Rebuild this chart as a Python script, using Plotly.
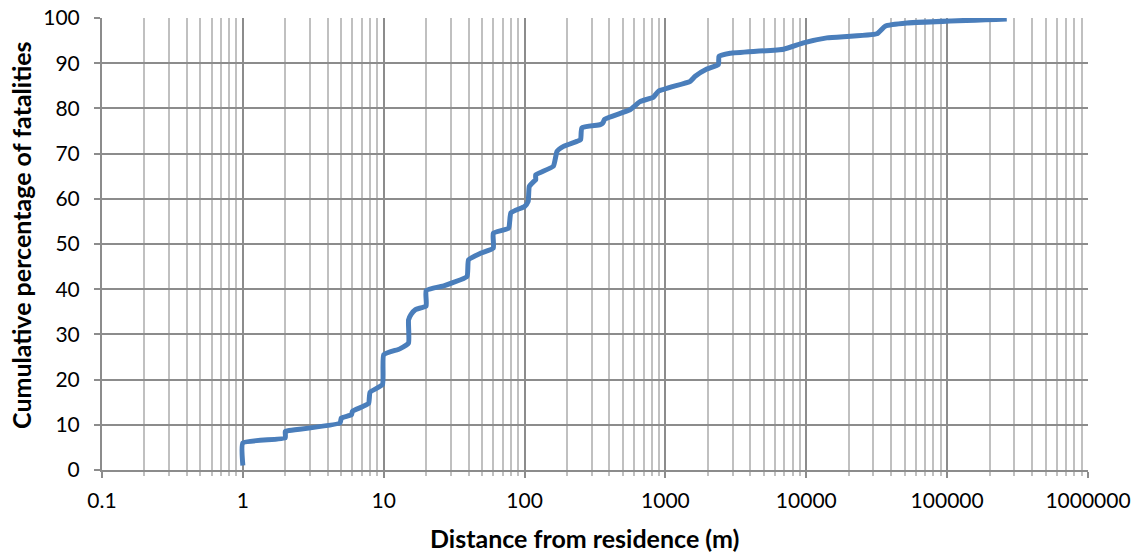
import plotly.graph_objects as go

# Distance from residence (m) and cumulative percentage of fatalities
distance_m = [1, 1, 2.0, 2.0, 2.1, 4.9, 5.0, 5.9, 6.0, 7.8, 8.0, 9.8, 10, 13, 15, 15, 15.6, 16.8,
              20, 20, 27, 39, 40, 49, 60, 60, 77, 80, 100, 106, 108, 116, 120, 120, 160, 170,
              189, 235, 250, 255, 344, 360, 370, 560, 660, 822, 892, 1500, 1626, 1968, 2378,
              2400, 2880, 6900, 9550, 14000, 31700, 36300, 51800, 265000]
cum_pct = [1.0, 6.0, 7.1, 8.5, 8.7, 10.4, 11.5, 12.2, 13.0, 14.7, 17.2, 18.9, 25.5, 26.8, 28.1,
           33.2, 34.4, 35.5, 36.3, 39.7, 40.8, 42.8, 46.5, 48.0, 49.1, 52.4, 53.5, 56.9, 58.3,
           59.4, 62.7, 63.8, 64.2, 65.3, 67.2, 70.5, 71.6, 72.7, 73.1, 75.7, 76.4, 76.8, 77.6,
           79.7, 81.5, 82.5, 83.8, 86.0, 87.1, 88.7, 89.7, 91.5, 92.2, 93.1, 94.5, 95.6, 96.5,
           98.2, 98.9, 99.8]

x_tickvals = [0.1, 1, 10, 100, 1000, 10000, 100000, 1000000]
x_ticktext = ["0.1", "1", "10", "100", "1000", "10000", "100000", "1000000"]
y_tickvals = [0, 10, 20, 30, 40, 50, 60, 70, 80, 90, 100]

FONT = "Lato"
MAJOR = "#8c8c8c"
MINOR = "#c0c0c0"

fig = go.Figure()
fig.add_trace(go.Scatter(
    x=distance_m, y=cum_pct, mode="lines",
    line=dict(color="#4a7ebb", width=5, shape="spline", smoothing=0.4),
    showlegend=False, hoverinfo="x+y",
))

fig.update_layout(
    width=1137, height=558,
    margin=dict(l=102, r=49, t=18, b=88, autoexpand=False),
    paper_bgcolor="white", plot_bgcolor="white",
    font=dict(family=FONT, size=21, color="black"),
    xaxis=dict(
        type="log", range=[-1, 6], automargin=False,
        tickvals=x_tickvals, ticktext=x_ticktext,
        showgrid=True, gridcolor=MAJOR, gridwidth=1.5,
        showline=True, linecolor=MAJOR, linewidth=2,
        ticks="outside", ticklen=6, tickcolor=MAJOR, tickwidth=2,
        ticklabelstandoff=5,
        minor=dict(dtick="D1", showgrid=True, gridcolor=MINOR, gridwidth=1.5,
                   ticks="outside", ticklen=4, tickcolor=MINOR, tickwidth=1.5),
        zeroline=False,
    ),
    yaxis=dict(
        range=[0, 100], tickvals=y_tickvals, automargin=False,
        showgrid=True, gridcolor=MAJOR, gridwidth=1.5,
        showline=True, linecolor=MAJOR, linewidth=2,
        ticks="outside", ticklen=6, tickcolor=MAJOR, tickwidth=2,
        ticklabelstandoff=10,
        zeroline=False,
    ),
    annotations=[
        dict(text="<b>Distance from residence (m)</b>", xref="paper", yref="paper",
             x=0.489, y=0, xanchor="center", yanchor="middle", yshift=-68,
             showarrow=False, font=dict(size=25, family=FONT, color="black")),
        dict(text="<b>Cumulative percentage of fatalities</b>", xref="paper", yref="paper",
             x=0, y=0.52, xanchor="center", yanchor="middle", xshift=-81, textangle=-90,
             showarrow=False, font=dict(size=25, family=FONT, color="black")),
    ],
)

fig.write_html("out.html", config={"displayModeBar": False},
               post_script="document.body.style.margin='0';document.body.style.padding='0';")
